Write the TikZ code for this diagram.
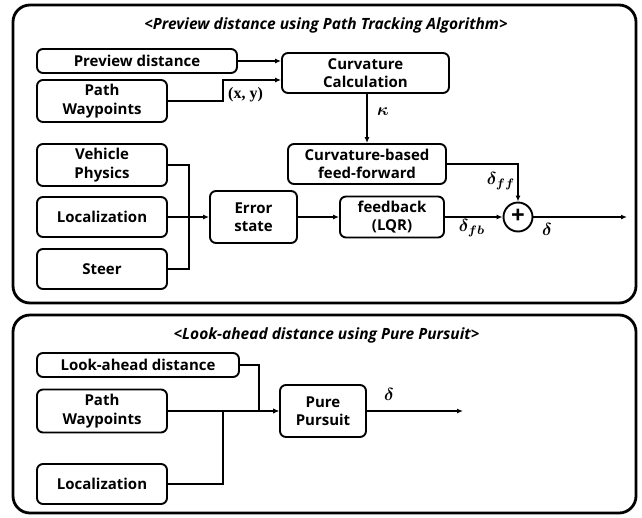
\documentclass[tikz,border=0pt]{standalone}
\usepackage{graphicx}
\usepackage{amsmath,bm}
\usepackage{fontspec}
\setmainfont{Open Sans}
\newfontfamily\serfont{Liberation Serif}
\usetikzlibrary{arrows.meta}
\newcommand{\lbig}[1]{\scalebox{1.75}{#1}}
\begin{document}
\begin{tikzpicture}[x=1pt,y=-1pt,
  box/.style={draw, line width=1.9pt, rounded corners=6pt, font=\bfseries\fontsize{15}{18.5}\selectfont, align=center, inner sep=0pt},
  panel/.style={draw, line width=2.8pt, rounded corners=17pt, inner sep=0pt},
  ttl/.style={font=\bfseries\itshape\fontsize{15.5}{18}\selectfont},
  conn/.style={line width=1.3pt},
  arr/.style={conn, -{Latex[length=6pt,width=5pt]}},
  lbl/.style={inner sep=0pt}]
\useasboundingbox (0,0) rectangle (642,517);
% panels
\node[panel, minimum width=623, minimum height=298] (ptop) at (324.5,154) {};
\node[panel, minimum width=623, minimum height=198] (pbot) at (324.5,414) {};
\node[ttl] (t1) at (326,25) {<Preview distance using Path Tracking Algorithm>};
\node[ttl] (t2) at (326.5,335) {<Look-ahead distance using Pure Pursuit>};
% top nodes
\node[box, minimum width=200, minimum height=24] (pd) at (137,61) {Preview distance};
\node[box, minimum width=130, minimum height=42] (pw) at (102,101) {Path\\Waypoints};
\node[box, minimum width=167, minimum height=40] (cc) at (365.5,73) {Curvature\\Calculation};
\node[box, minimum width=158, minimum height=40] (ff) at (367,164) {Curvature-based\\feed-forward};
\node[box, minimum width=130, minimum height=42] (vp) at (102,165) {Vehicle\\Physics};
\node[box, minimum width=130, minimum height=40] (loc) at (102,217) {Localization};
\node[box, minimum width=130, minimum height=40] (st) at (102,269) {Steer};
\node[box, minimum width=87, minimum height=52] (es) at (253.5,217) {Error\\state};
\node[box, minimum width=104, minimum height=41] (fb) at (392,217) {feedback\\(LQR)};
\node[draw, circle, line width=1.9pt, minimum size=29, inner sep=0pt, font=\bfseries\fontsize{24}{24}\selectfont] (sum) at (518,217) {\raisebox{1.5pt}{+}};
\coordinate (out1) at (627,217);
\coordinate (jx) at (189,217);
% top connectors
\draw[arr] (pd.east) -- (cc.west |- pd.east);
\draw[arr] (pw.east) -- (223,101) |- (cc.west |- 0,80);
\node[lbl, anchor=west, font=\serfont\bfseries\fontsize{16}{18}\selectfont] (xy) at (228,95) {(x, y)};
\draw[arr] (cc.south -| ff.north) -- (ff.north);
\node[lbl] (kap) at (383,112) {\lbig{$\bm{\kappa}$}};
\draw[conn] (vp.east) -| (jx);
\draw[conn] (st.east) -| (jx);
\draw[conn] (loc.east) -- (jx);
\draw[arr] (jx) -- (es.west);
\draw[arr] (es.east) -- (fb.west);
\draw[arr] (fb.east) -- (sum.west);
\node[lbl] (dfb) at (472,228) {\lbig{$\bm{\delta}_{\bm{fb}}$}};
\draw[arr] (ff.east) -| (sum.north);
\node[lbl] (dff) at (501,181) {\lbig{$\bm{\delta}_{\bm{ff}}$}};
\draw[arr] (sum.east) -- (out1);
\node[lbl] (dout1) at (547,229) {\lbig{$\bm{\delta}$}};
% bottom nodes
\node[box, minimum width=202, minimum height=24] (la) at (138,365) {Look-ahead distance};
\node[box, minimum width=130, minimum height=43] (pw2) at (102,411) {Path\\Waypoints};
\node[box, minimum width=86, minimum height=52] (pp) at (323,411) {Pure\\Pursuit};
\node[box, minimum width=130, minimum height=40] (loc2) at (102,484) {Localization};
\coordinate (out2) at (463,411);
\coordinate (j2) at (223,411);
\draw[arr] (la.east) -| (259,411) -- (pp.west);
\draw[arr] (pw2.east) -- (pp.west);
\draw[conn] (loc2.east) -| (j2);
\draw[arr] (pp.east) -- (out2);
\node[lbl] (dout2) at (389,394) {\lbig{$\bm{\delta}$}};
\end{tikzpicture}
\end{document}
